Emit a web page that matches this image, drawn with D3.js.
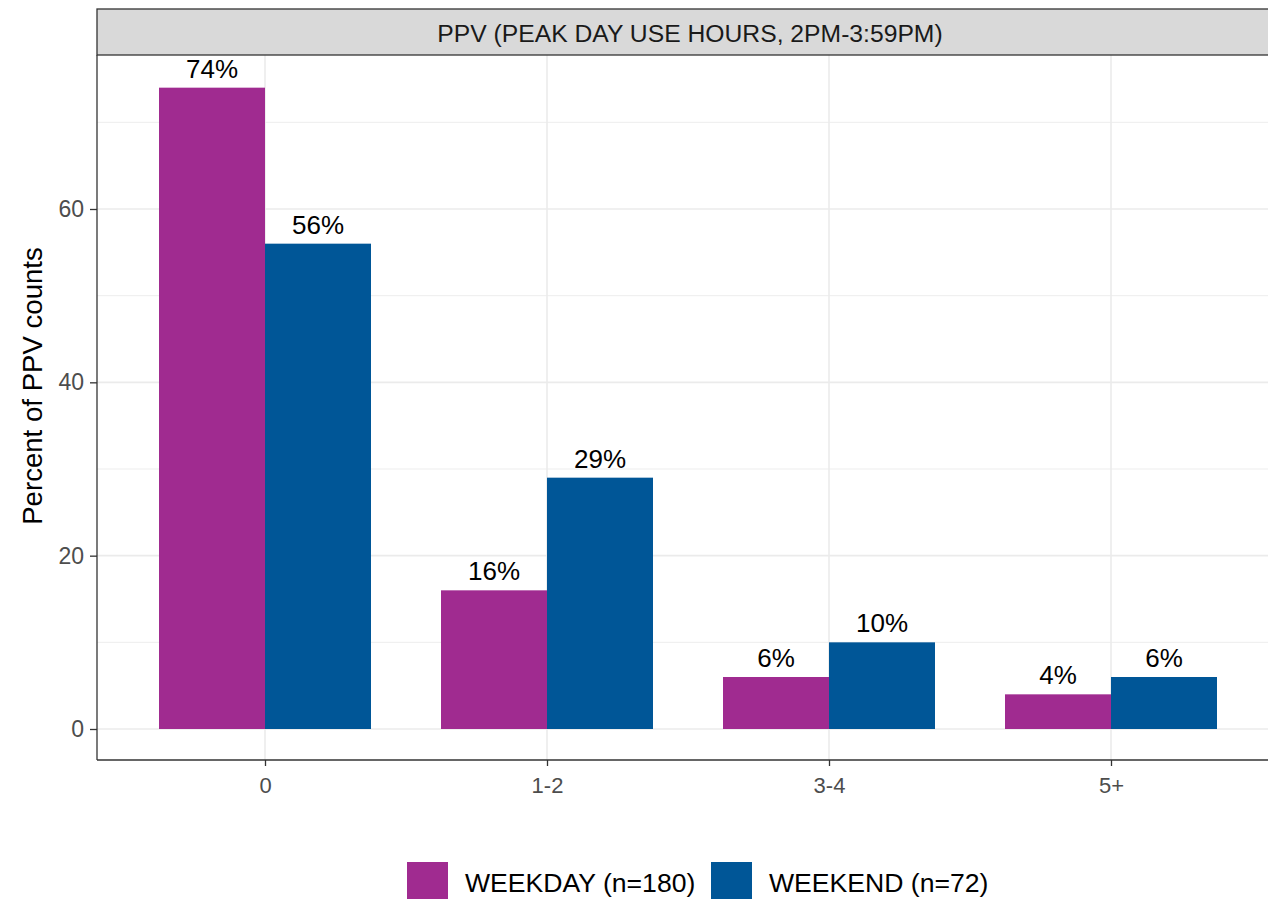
<!DOCTYPE html>
<html>
<head>
<meta charset="utf-8">
<script src="https://cdn.jsdelivr.net/npm/d3@7"></script>
<style>
  body { margin: 0; background: #fff; }
  svg { display: block; font-family: "Liberation Sans", Arial, sans-serif; }
</style>
</head>
<body>
<svg id="chart" width="1268" height="899"></svg>
<script>
//////// data
var categories = ["0", "1-2", "3-4", "5+"]
var groups = ["WEEKDAY (n=180)", "WEEKEND (n=72)"]
var weekday = [74, 16, 6, 4]
var weekend = [56, 29, 10, 6]
var yTicks = [0, 20, 40, 60]
var yMinor = [10, 30, 50, 70]
var stripTitle = "PPV (PEAK DAY USE HOURS, 2PM-3:59PM)"
var yTitle = "Percent of PPV counts"

var colorLookup = { "WEEKDAY (n=180)": "#A02B90", "WEEKEND (n=72)": "#005697" }

var rows = []
categories.forEach(function (c, i) {
  rows.push({ cat: c, grp: groups[0], val: weekday[i] })
  rows.push({ cat: c, grp: groups[1], val: weekend[i] })
})

var svg = d3.select("#chart")
var panel = { left: 97, right: 1268, top: 55, bottom: 760 }

// scales
var x = d3.scalePoint().domain(categories).range([265, 1111])
var xSub = d3.scaleBand().domain(groups).range([-106, 106])
var y = d3.scaleLinear().domain([0, 60]).range([729, 209])

//////// gridlines
var grid = svg.append("g")
grid.selectAll(".minor").data(yMinor).enter().append("line")
  .attr("x1", panel.left).attr("x2", panel.right)
  .attr("y1", d => y(d)).attr("y2", d => y(d))
  .attr("stroke", "#EBEBEB").attr("stroke-width", 0.9)
grid.selectAll(".major").data(yTicks).enter().append("line")
  .attr("x1", panel.left).attr("x2", panel.right)
  .attr("y1", d => y(d)).attr("y2", d => y(d))
  .attr("stroke", "#EBEBEB").attr("stroke-width", 1.6)
grid.selectAll(".vmajor").data(categories).enter().append("line")
  .attr("x1", d => x(d)).attr("x2", d => x(d))
  .attr("y1", panel.top).attr("y2", panel.bottom)
  .attr("stroke", "#EBEBEB").attr("stroke-width", 1.6)

//////// bars
svg.append("g").selectAll("rect").data(rows).enter().append("rect")
  .attr("x", d => x(d.cat) + xSub(d.grp))
  .attr("width", xSub.bandwidth())
  .attr("y", d => y(d.val))
  .attr("height", d => y(0) - y(d.val))
  .attr("fill", d => colorLookup[d.grp])

svg.append("g").selectAll("text").data(rows).enter().append("text")
  .attr("x", d => x(d.cat) + xSub(d.grp) + xSub.bandwidth() / 2)
  .attr("y", d => y(d.val) - 10)
  .attr("text-anchor", "middle")
  .style("font-size", "26px")
  .attr("fill", "#000")
  .text(d => d.val + "%")

//////// strip
svg.append("rect")
  .attr("x", panel.left).attr("y", 9)
  .attr("width", panel.right - panel.left + 10).attr("height", panel.top - 9)
  .attr("fill", "#D9D9D9").attr("stroke", "#333333").attr("stroke-width", 1.3)
svg.append("text")
  .attr("x", 690).attr("y", 42)
  .attr("text-anchor", "middle")
  .style("font-size", "24.7px")
  .attr("fill", "#1A1A1A")
  .text(stripTitle)

//////// axes
var yAxis = svg.append("g").attr("transform", "translate(" + panel.left + ",0)")
  .call(d3.axisLeft(y).tickValues(yTicks).tickSize(7).tickPadding(6))
yAxis.select(".domain").remove()
yAxis.append("line").attr("x1", 0).attr("x2", 0).attr("y1", panel.top).attr("y2", panel.bottom)
  .attr("stroke", "#333333").attr("stroke-width", 1.3)
yAxis.selectAll(".tick text").style("font-size", "23px")

var xAxis = svg.append("g").attr("transform", "translate(0," + panel.bottom + ")")
  .call(d3.axisBottom(x).tickSize(6).tickPadding(11))
xAxis.select(".domain").remove()
xAxis.append("line").attr("x1", panel.left).attr("x2", panel.right).attr("y1", 0).attr("y2", 0)
  .attr("stroke", "#333333").attr("stroke-width", 1.3)
xAxis.selectAll(".tick text").style("font-size", "22px")

svg.selectAll(".tick line").attr("stroke", "#333333").attr("stroke-width", 1.3)
svg.selectAll(".tick text").attr("fill", "#4D4D4D")
  .style("font-family", "'Liberation Sans', Arial, sans-serif")

svg.append("text")
  .attr("transform", "translate(42,386) rotate(-90)")
  .attr("text-anchor", "middle")
  .style("font-size", "27.6px")
  .attr("fill", "#000")
  .text(yTitle)

//////// legend
var legendX = [407, 711]
var legend = svg.append("g").selectAll("g").data(groups).enter().append("g")
  .attr("transform", (d, i) => "translate(" + legendX[i] + ",862)")
legend.append("rect")
  .attr("width", 41).attr("height", 41)
  .attr("fill", d => colorLookup[d])
legend.append("text")
  .attr("x", 58).attr("y", 30)
  .style("font-size", "26.6px")
  .attr("fill", "#000")
  .text(d => d)
</script>
</body>
</html>
